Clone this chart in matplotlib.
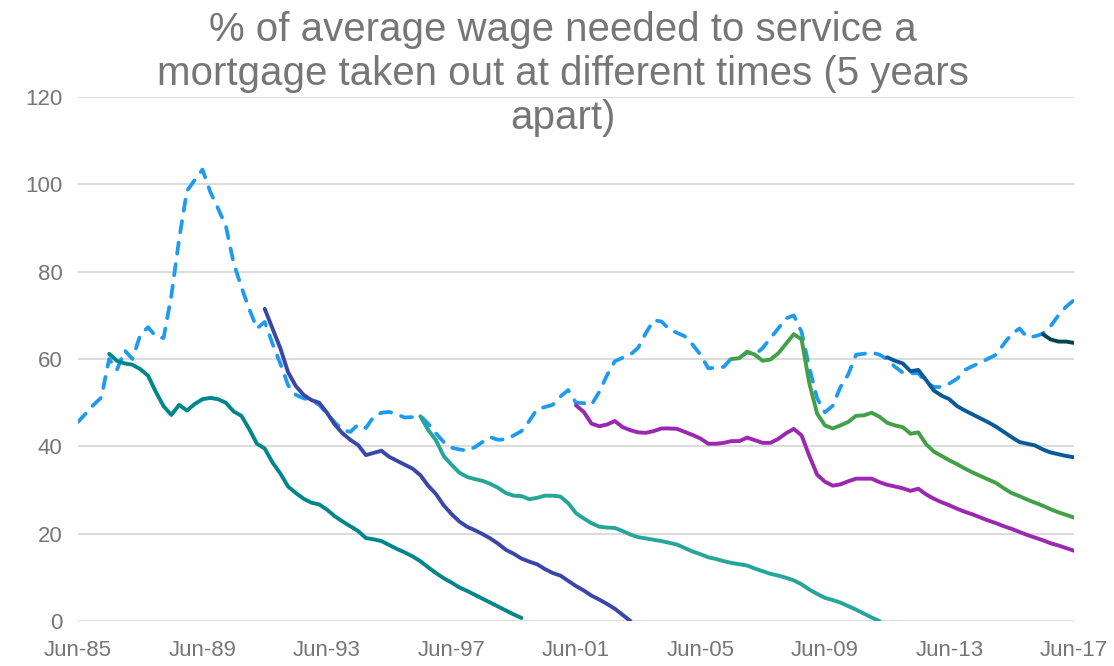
import numpy as np
import matplotlib
matplotlib.use("Agg")
import matplotlib.pyplot as plt

# quarterly index, 0 = Jun-85 ... 128 = Jun-17
tick_pos = [0, 16, 32, 48, 64, 80, 96, 112, 128]
tick_labels = ["Jun-85", "Jun-89", "Jun-93", "Jun-97", "Jun-01",
               "Jun-05", "Jun-09", "Jun-13", "Jun-17"]

# % of average wage needed for a new mortgage (dashed)
new_mortgage = [
    45.6, 47.5, 49.5, 51.2, 60.0, 57.5, 62.0, 60.0, 65.5, 67.3,
    65.2, 64.8, 74.5, 87.5, 98.5, 101.0, 103.4, 98.3, 94.5, 90.5,
    82.0, 76.5, 71.5, 67.0, 68.5, 63.5, 59.0, 54.0, 51.8, 51.0,
    50.6, 49.5, 47.5, 45.5, 43.8, 43.3, 45.0, 44.2, 46.8, 47.7,
    47.9, 47.3, 46.6, 46.7, 47.0, 45.2, 43.0, 41.0, 39.7, 39.3,
    39.0, 39.8, 41.0, 42.1, 41.5, 41.6, 42.5, 43.5, 45.8, 48.5,
    49.0, 49.5, 51.4, 52.9, 50.0, 49.9, 49.5, 52.5, 56.3, 59.5,
    60.3, 61.0, 62.6, 66.0, 68.9, 68.6, 66.8, 66.0, 65.2, 63.3,
    61.0, 57.9, 58.0, 58.2, 60.2, 60.3, 61.5, 61.0, 62.5, 64.8,
    67.0, 69.3, 70.0, 66.2, 58.0, 51.0, 47.8, 49.3, 53.6, 56.5,
    61.0, 61.2, 61.5, 61.0, 60.0, 58.2, 56.9, 56.7, 56.8, 54.6,
    53.6, 53.6, 54.4, 55.5, 57.5, 58.4, 59.2, 60.1, 61.0, 63.5,
    65.7, 67.0, 65.0, 65.2, 65.8, 67.5, 70.0, 72.0, 73.5,
]

# mortgages taken out every 5 years
m1986 = [
    61.2, 59.6, 59.0, 58.7, 57.7, 56.2, 52.5, 49.2, 47.2, 49.5,
    48.2, 49.7, 50.8, 51.1, 50.8, 50.0, 48.0, 47.0, 44.0, 40.6,
    39.5, 36.3, 33.8, 30.8, 29.3, 28.0, 27.1, 26.7, 25.5, 24.0,
    22.8, 21.7, 20.6, 19.0, 18.7, 18.3, 17.4, 16.5, 15.7, 14.8,
    13.7, 12.3, 11.0, 9.8, 8.8, 7.7, 6.9, 6.0, 5.1, 4.2,
    3.3, 2.4, 1.5, 0.7,
]
m1991 = [
    71.5, 67.0, 62.5, 57.0, 53.8, 51.8, 50.6, 50.0, 47.7, 45.0,
    43.0, 41.5, 40.3, 38.0, 38.5, 39.0, 37.6, 36.7, 35.8, 34.9,
    33.4, 31.0, 29.1, 26.5, 24.5, 22.8, 21.6, 20.8, 19.9, 18.9,
    17.7, 16.3, 15.4, 14.3, 13.6, 13.0, 11.9, 11.0, 10.4, 9.2,
    8.0, 7.0, 5.8, 4.9, 3.9, 2.8, 1.4, 0.0,
]
m1996 = [
    46.9, 43.8, 41.4, 37.8, 35.8, 34.0, 33.0, 32.5, 32.1, 31.4,
    30.5, 29.3, 28.7, 28.6, 27.9, 28.2, 28.7, 28.7, 28.5, 27.0,
    24.7, 23.5, 22.4, 21.6, 21.4, 21.3, 20.6, 19.8, 19.2, 18.9,
    18.6, 18.3, 17.9, 17.5, 16.7, 15.9, 15.3, 14.6, 14.2, 13.7,
    13.3, 13.0, 12.7, 12.0, 11.4, 10.8, 10.4, 9.9, 9.3, 8.4,
    7.2, 6.2, 5.3, 4.8, 4.2, 3.4, 2.6, 1.7, 0.8, 0.0,
]
m2001 = [
    49.4, 47.9, 45.2, 44.6, 45.0, 45.8, 44.4, 43.7, 43.2, 43.1,
    43.5, 44.1, 44.1, 44.0, 43.3, 42.6, 41.8, 40.6, 40.6, 40.8,
    41.2, 41.2, 42.0, 41.4, 40.8, 40.8, 41.7, 43.0, 44.0, 42.5,
    37.8, 33.5, 31.9, 31.0, 31.3, 32.0, 32.6, 32.6, 32.6, 31.8,
    31.2, 30.8, 30.4, 29.8, 30.3, 29.0, 28.0, 27.2, 26.5, 25.7,
    25.0, 24.4, 23.7, 23.0, 22.4, 21.7, 21.1, 20.4, 19.7, 19.1,
    18.5, 17.8, 17.3, 16.7, 16.1,
]
m2006 = [
    60.0, 60.2, 61.7, 61.0, 59.6, 59.9, 61.3, 63.5, 65.7, 64.5,
    54.4, 47.5, 44.8, 44.1, 44.8, 45.6, 47.0, 47.1, 47.7, 46.8,
    45.4, 44.8, 44.4, 42.9, 43.2, 40.5, 38.8, 37.8, 36.8, 35.9,
    34.9, 34.0, 33.2, 32.4, 31.6, 30.4, 29.3, 28.6, 27.8, 27.1,
    26.4, 25.6, 24.9, 24.3, 23.7,
]
m2011 = [
    60.4, 59.6, 59.0, 57.2, 57.5, 55.2, 52.8, 51.6, 50.8, 49.2,
    48.2, 47.3, 46.4, 45.5, 44.5, 43.3, 42.1, 41.0, 40.6, 40.2,
    39.3, 38.6, 38.2, 37.8, 37.5,
]
m2016 = [65.7, 64.5, 64.0, 64.0, 63.7]

# (start quarter, values, colour)
cohorts = [
    (4, m1986, "#00868B"),
    (24, m1991, "#3A47A8"),
    (44, m1996, "#26A69A"),
    (64, m2001, "#9C27B0"),
    (84, m2006, "#43A047"),
    (104, m2011, "#0B5A98"),
    (124, m2016, "#00474D"),
]

grey = "#767676"
plt.rcParams["font.family"] = ["Liberation Sans", "DejaVu Sans"]

fig = plt.figure(figsize=(11.14, 6.66), dpi=100)
ax = fig.add_axes([0.070, 0.0676, 0.894, 0.7866])

ax.plot(np.arange(len(new_mortgage)), new_mortgage, color="#1E9BF0",
        lw=2.7, dashes=(3.0, 2.8), dash_capstyle="round", zorder=2)

for start, vals, col in cohorts:
    ax.plot(np.arange(start, start + len(vals)), vals, color=col,
            lw=2.8, solid_capstyle="round", zorder=3)

ax.set_xlim(0, 128)
ax.set_ylim(0, 120)
ax.set_yticks(range(0, 121, 20))
ax.set_xticks(tick_pos)
ax.set_xticklabels(tick_labels)
ax.grid(axis="y", color="#D9D9D9", lw=1.3)
ax.set_axisbelow(True)
for s in ax.spines.values():
    s.set_visible(False)
ax.tick_params(length=0, labelsize=16, colors=grey)
ax.tick_params(axis="y", pad=11)
ax.tick_params(axis="x", pad=14)

fig.text(0.505, 0.984, "% of average wage needed to service a\n"
         "mortgage taken out at different times (5 years\napart)",
         ha="center", va="top", fontsize=29, color=grey, linespacing=1.2)

fig.savefig("out.png", dpi=100)
